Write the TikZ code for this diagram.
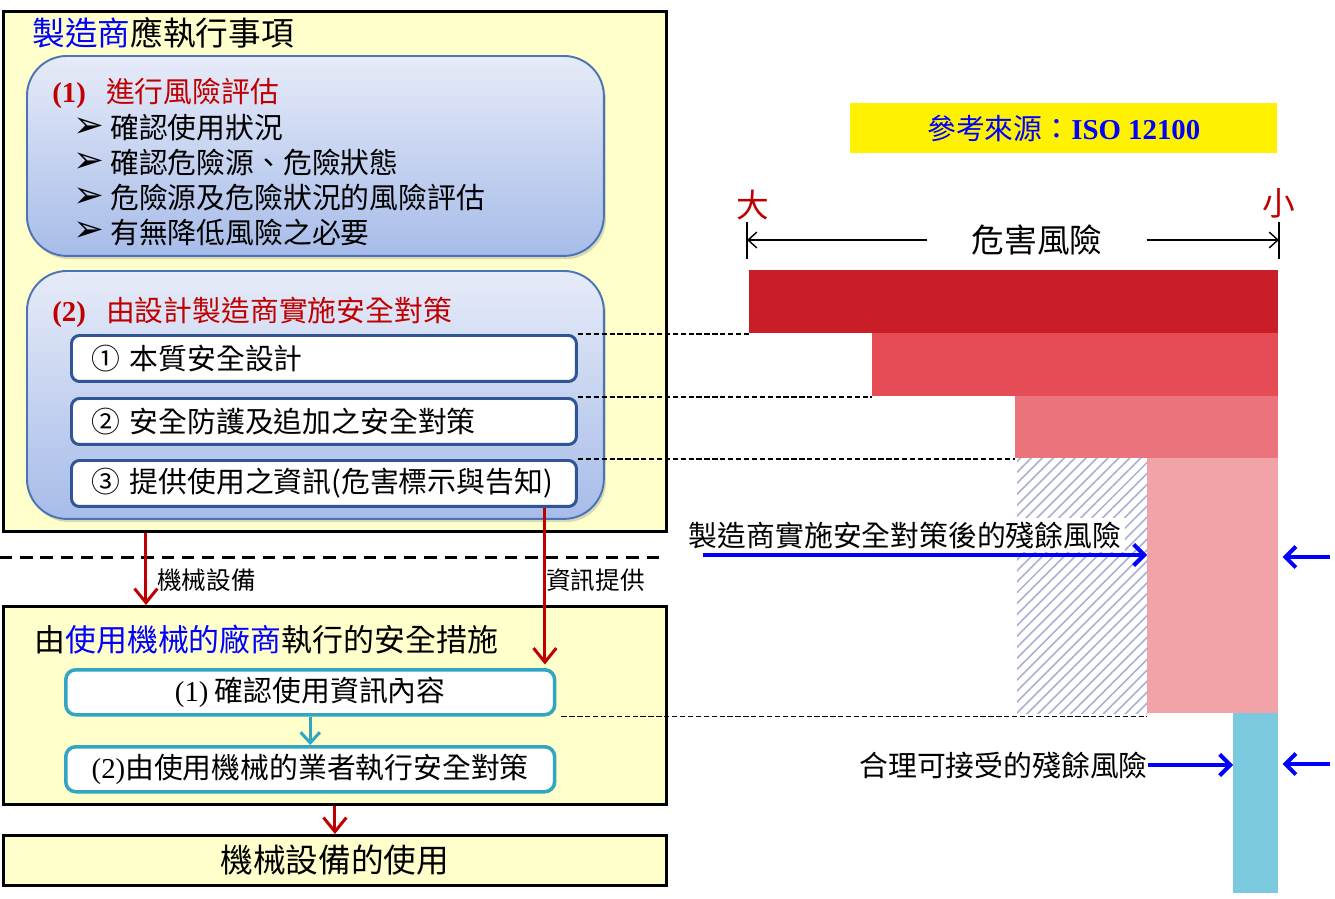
\documentclass[tikz,border=0pt]{standalone}
\usepackage{fontspec}
\setmainfont{Noto Sans CJK TC}
\newfontfamily\tms{Liberation Serif}
\newfontfamily\djv{DejaVu Sans}
\usetikzlibrary{arrows.meta,patterns.meta,shadows}

\newcommand\fbody{\fontsize{16.4pt}{19pt}\selectfont}
\newcommand\ftitle{\fontsize{18.6pt}{22pt}\selectfont}
\newcommand\fsmall{\fontsize{14pt}{16pt}\selectfont}

\definecolor{pale}{HTML}{FFFFCC}
\definecolor{deepred}{HTML}{C00000}
\definecolor{frame}{HTML}{4A74B4}
\definecolor{navy}{HTML}{2F5597}
\definecolor{tealline}{HTML}{31A5C1}
\definecolor{gradtop}{HTML}{E6EBF8}
\definecolor{gradbot}{HTML}{A7BCE9}
\definecolor{riskA}{HTML}{C91E27}
\definecolor{riskB}{HTML}{E54C55}
\definecolor{riskC}{HTML}{EB737B}
\definecolor{riskD}{HTML}{F2A3A7}
\definecolor{hatch}{HTML}{A9AFD3}
\definecolor{okcyan}{HTML}{7AC9DF}

\tikzset{
  txt/.style={font=\fbody,inner sep=0pt},
  outer/.style={draw,line width=1.7pt,fill=pale,anchor=north west,inner sep=0pt,minimum width=13.26cm},
  roundbox/.style={draw=frame,line width=1.1pt,rounded corners=0.8cm,top color=gradtop,bottom color=gradbot,
    anchor=north west,minimum width=11.54cm,drop shadow={shadow xshift=1.2pt,shadow yshift=-1.8pt,opacity=0.3}},
  itembox/.style={draw=navy,line width=1.7pt,fill=white,rounded corners=0.16cm,anchor=north west,
    text width=9.3cm,inner xsep=0.4cm,inner ysep=0pt,minimum height=0.92cm,align=left,font=\fbody},
  usebox/.style={draw=tealline,line width=2pt,fill=white,rounded corners=0.2cm,anchor=north west,
    minimum width=9.78cm,minimum height=0.9cm,font=\fbody},
  redarr/.style={draw=deepred,line width=1.7pt,-{Straight Barb[length=8pt,width=13pt]}},
  tealarr/.style={draw=tealline,line width=1.7pt,-{Straight Barb[length=6pt,width=11pt]}},
  bluearr/.style={draw=blue,line width=2.3pt,-{Straight Barb[length=6pt,width=12pt]}},
  dimarr/.style={draw,line width=0.8pt,-{Straight Barb[length=5pt,width=9pt]}},
  guide/.style={draw,line width=0.9pt,dash pattern=on 3pt off 1.5pt},
}

\begin{document}
\begin{tikzpicture}[x=0.02cm,y=-0.02cm]
\useasboundingbox (0,0) rectangle (1335,899);

% 製造商
\node[outer,minimum height=10.4cm] (maker) at (2,10) {};
\node[txt,font=\ftitle,anchor=west] (makerT) at (32,33) {\textcolor{blue}{製造商}應執行事項};

\node[roundbox,minimum height=4cm] (assess) at (26,55) {};
\node[txt,anchor=west,text=deepred] (assessT) at (52,93) {{\tms\bfseries (1)}\hspace{0.7em}進行風險評估};
\foreach \t [count=\i] in {確認使用狀況,確認危險源、危險狀態,危險源及危險狀況的風險評估,有無降低風險之必要}
{
  \node[txt,font=\djv\fontsize{21pt}{23pt}\selectfont] (mark\i) at (89,{93.3+34.7*\i}) {➢};
  \node[txt,anchor=west] (chk\i) at (110,{93.3+34.7*\i}) {\t};
}

\node[roundbox,minimum height=4.96cm] (measures) at (26,270) {};
\node[txt,anchor=west,text=deepred] (measT) at (52,312) {{\tms\bfseries (2)}\hspace{0.7em}由設計製造商實施安全對策};
\node[itembox] (stepA) at (70,334) {① 本質安全設計};
\node[itembox] (stepB) at (70,397) {② 安全防護及追加之安全對策};
\node[itembox] (stepC) at (70,459) {③ 提供使用之資訊(危害標示與告知)};

\draw[line width=1.7pt,dash pattern=on 7pt off 4.5pt] (0,557) -- (666,557);

% 使用機械的廠商
\node[outer,minimum height=3.96cm] (user) at (2,605) {};
\node[txt,font=\fontsize{17.6pt}{21pt}\selectfont,anchor=west] (userT) at (34,640) {由\textcolor{blue}{使用機械的廠商}執行的安全措施};
\node[usebox] (readInfo) at (64,668) {{\tms (1)} 確認使用資訊內容};
\node[usebox] (doSafe) at (64,745) {{\tms (2)}由使用機械的業者執行安全對策};
\node[outer,minimum height=1cm,font=\ftitle] (use) at (2,834) {機械設備的使用};

\draw[redarr] ([xshift=2.88cm]maker.south west) -- ([xshift=2.88cm]user.north west);
\node[txt,font=\fsmall,anchor=west] (machLbl) at (157,580) {機械設備};
\coordinate (infoTop) at ([xshift=-0.66cm]stepC.south east);
\draw[redarr,shorten >=2pt] (infoTop) -- (infoTop |- readInfo.north);
\node[txt,font=\fsmall,anchor=west] (infoLbl) at (546,580) {資訊提供};
\draw[tealarr] (readInfo) -- (doSafe);
\draw[redarr] (user) -- (use);

% 風險
\node[fill=yellow,minimum width=8.54cm,minimum height=1cm,anchor=north west,font=\fbody,text=blue] (src) at (850,103) {參考來源：{\tms\bfseries ISO 12100}};
\node[txt,font=\ftitle,text=deepred] (big) at (753,205) {大};
\node[txt,font=\ftitle,text=deepred] (small) at (1279,203) {小};
\draw[line width=0.9pt] (747,222) coordinate (tickL) -- (747,259);
\draw[line width=0.9pt] (1279,222) coordinate (tickR) -- (1279,259);
\node[txt,font=\ftitle,inner xsep=0.88cm] (hazard) at (1037,240) {危害風險};
\draw[dimarr] (hazard.west) -- (hazard.west -| tickL);
\draw[dimarr] (hazard.east) -- (hazard.east -| tickR);

\fill[riskA] (749,270) coordinate (barA) rectangle (1278,333);
\fill[riskB] (872,333) coordinate (barB) rectangle (1278,396);
\fill[riskC] (1015,396) coordinate (barC) rectangle (1278,458);
\fill[riskD] (1147,458) coordinate (barD) rectangle (1278,713);
\fill[pattern={Lines[angle=45,distance=4.4pt,line width=0.9pt]},pattern color=hatch] (1017,458) rectangle (1147,713);
\fill[okcyan] (1233,713) coordinate (barE) rectangle (1278,893);

\draw[guide] (stepA.north east) -- (stepA.north east -| barA);
\draw[guide] (stepB.north east) -- (stepB.north east -| barB);
\draw[guide] (stepC.north east) -- (stepC.north east -| barC);
\draw[guide] ([xshift=0.1cm]readInfo.south east) -- (readInfo.south east -| barD);

\node[txt,fill=white,inner sep=2pt,anchor=east] (resid) at (1125,535) {製造商實施安全對策後的殘餘風險};
\coordinate (residL) at (703,555);
\draw[bluearr] (residL) -- (residL -| barD);
\coordinate (residR) at (1330,557);
\draw[bluearr,shorten >=2pt] (residR) -- (residR -| tickR);

\node[txt,anchor=east] (accept) at (1148,765) {合理可接受的殘餘風險};
\draw[bluearr] (accept.east) -- (accept.east -| barE);
\coordinate (acceptR) at (1330,764);
\draw[bluearr,shorten >=2pt] (acceptR) -- (acceptR -| tickR);
\end{tikzpicture}
\end{document}
